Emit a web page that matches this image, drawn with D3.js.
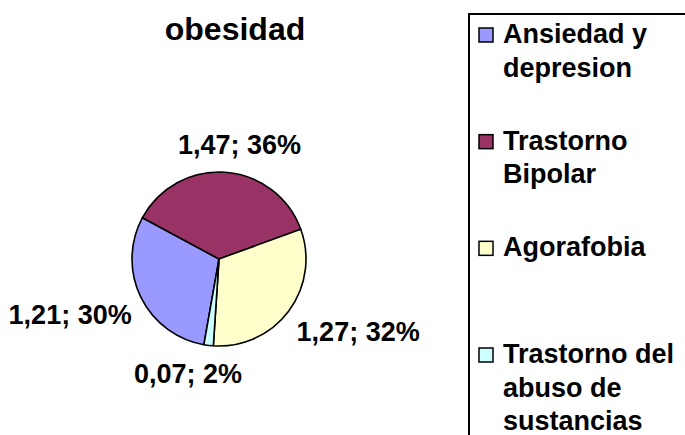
<!DOCTYPE html>
<html>
<head>
<meta charset="utf-8">
<script src="https://cdn.jsdelivr.net/npm/d3@7"></script>
<style>
  body { margin: 0; background: #fff; }
  text { font-family: Arial, "Liberation Sans", sans-serif; font-weight: bold; fill: #000; }
</style>
</head>
<body>
<script>
// data
var categories = ["Ansiedad y depresion", "Trastorno Bipolar", "Agorafobia", "Trastorno del abuso de sustancias"];
var values = [1.21, 1.47, 1.27, 0.07];
var percents = [30, 36, 32, 2];
var colors = ["#9999FF", "#993366", "#FFFFCC", "#CCFFFF"];
var title = "obesidad";

var width = 685;
var height = 435;

var svg = d3.select("body")
            .append("svg")
            .attr("width", width)
            .attr("height", height);

// title
svg.append("text")
   .attr("x", 235)
   .attr("y", 40)
   .attr("text-anchor", "middle")
   .attr("font-size", "32px")
   .text(title);

// pie
var cx = 219, cy = 259, r = 87;
var startDeg = 190;

var pie = d3.pie()
            .sort(null)
            .value(function(d) { return d; })
            .startAngle(startDeg * Math.PI / 180)
            .endAngle((startDeg + 360) * Math.PI / 180);

var arc = d3.arc().innerRadius(0).outerRadius(r);
var arcs = pie(values);

var g = svg.append("g")
           .attr("transform", "translate(" + cx + "," + cy + ")");

g.selectAll("path")
 .data(arcs)
 .enter()
 .append("path")
 .attr("d", arc)
 .attr("fill", function(d, i) { return colors[i]; })
 .attr("stroke", "#000")
 .attr("stroke-width", 1.6)
 .attr("stroke-linejoin", "round");

// data labels
var fs = 27, capH = fs * 0.716;
var rx = r + 10, ry = r + 18;
var fmt = function(v) { return v.toFixed(2).replace(".", ","); };

g.selectAll("text.lbl")
 .data(arcs)
 .enter()
 .append("text")
 .attr("class", "lbl")
 .attr("font-size", fs + "px")
 .text(function(d, i) { return fmt(d.value) + "; " + percents[i] + "%"; })
 .each(function(d) {
    var a = (d.startAngle + d.endAngle) / 2;
    var s = Math.sin(a), c = Math.cos(a);
    var ax = rx * s, ay = -ry * c;
    var w = this.getComputedTextLength();
    var fx = Math.max(0, Math.min(1, 0.5 - 1.5 * s));
    var fy = Math.max(0, Math.min(1, 0.5 + 1.5 * c));
    d3.select(this)
      .attr("x", ax - fx * w)
      .attr("y", ay - fy * capH + capH);
 });

// legend
svg.append("rect")
   .attr("x", 469)
   .attr("y", 14)
   .attr("width", 300)
   .attr("height", 500)
   .attr("fill", "#fff")
   .attr("stroke", "#000")
   .attr("stroke-width", 2);

var ly = d3.scalePoint().domain(categories).range([43, 363]);
var lineH = 33.5;
var maxW = 180;

var items = svg.selectAll("g.leg")
               .data(categories)
               .enter()
               .append("g")
               .attr("class", "leg");

items.append("rect")
     .attr("x", 479)
     .attr("y", function(d) { return ly(d) - 15; })
     .attr("width", 14)
     .attr("height", 14)
     .attr("fill", function(d, i) { return colors[i]; })
     .attr("stroke", "#000")
     .attr("stroke-width", 1.5);

items.append("text")
     .attr("font-size", fs + "px")
     .each(function(d) {
        var t = d3.select(this);
        var words = d.split(" ");
        var lines = [];
        var cur = "";
        var probe = t.append("tspan");
        words.forEach(function(wd) {
          var test = cur ? cur + " " + wd : wd;
          probe.text(test);
          if (probe.node().getComputedTextLength() > maxW && cur) {
            lines.push(cur);
            cur = wd;
          } else {
            cur = test;
          }
        });
        lines.push(cur);
        probe.remove();
        lines.forEach(function(l, k) {
          t.append("tspan")
           .attr("x", 503)
           .attr("y", ly(d) + k * lineH)
           .text(l);
        });
     });
</script>
</body>
</html>
